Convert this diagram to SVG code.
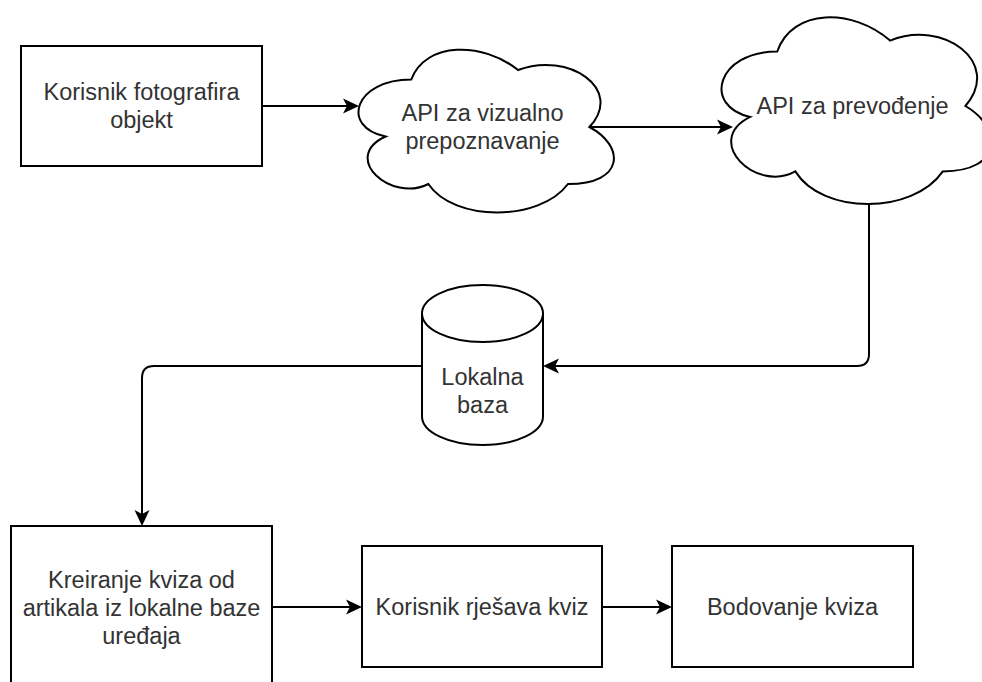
<svg xmlns="http://www.w3.org/2000/svg" width="982" height="682" viewBox="0 0 982 682">
<style>
.shape{fill:#ffffff;stroke:#000000;stroke-width:2}
.line{fill:none;stroke:#000000;stroke-width:2}
.lbl{font-family:"Liberation Sans",Arial,Helvetica,sans-serif;font-size:23.5px;fill:#333333;text-anchor:middle}
</style>
<defs>
<marker id="arrow" markerUnits="userSpaceOnUse" markerWidth="18" markerHeight="16" refX="12" refY="7.5" orient="auto" overflow="visible">
<path d="M0,0 L16,7.5 L0,15 L4,7.5 Z" fill="#000000" stroke="none"/>
</marker>
</defs>
<rect width="982" height="682" fill="#ffffff"/>
<g id="connectors">
<path class="line" d="M262,106 H355" marker-end="url(#arrow)"/>
<path class="line" d="M589,127 H729" marker-end="url(#arrow)"/>
<path class="line" d="M869,205 V354 Q869,366 857,366 H547" marker-end="url(#arrow)"/>
<path class="line" d="M422,366 H154 Q142,366 142,378 V522" marker-end="url(#arrow)"/>
<path class="line" d="M272,607 H358" marker-end="url(#arrow)"/>
<path class="line" d="M602,607 H668" marker-end="url(#arrow)"/>
</g>
<g id="node-korisnik-fotografira">
<rect class="shape" x="21" y="46" width="241" height="120"/>
<text class="lbl" x="141.5" y="100.4">Korisnik fotografira</text>
<text class="lbl" x="141.5" y="128.4">objekt</text>
</g>
<g id="node-api-vizualno">
<path class="shape" d="M411.25,79.5 C354.25,79.5 340,127 385.6,136.5 C340,157.4 391.3,203 428.35,184 C454,222 539.5,222 568,184 C625,184 625,146 589.4,127 C625,89 568,51 518.1,70 C482.5,41.5 425.5,41.5 411.25,79.5 Z"/>
<text class="lbl" x="482.5" y="121.4">API za vizualno</text>
<text class="lbl" x="482.5" y="149.4">prepoznavanje</text>
</g>
<g id="node-api-prevodenje">
<path class="shape" d="M777.25,51.5 C717.05,51.5 702,106 750.16,116.9 C702,140.9 756.18,193.2 795.31,171.4 C822.4,215 912.7,215 942.8,171.4 C1003,171.4 1003,127.8 965.4,106 C1003,62.4 942.8,18.8 890.1,40.6 C852.5,7.9 792.3,7.9 777.25,51.5 Z"/>
<text class="lbl" x="852.5" y="114.4">API za prevođenje</text>
</g>
<g id="node-lokalna-baza">
<path class="shape" d="M422,313.5 A60.5,28.5 0 0 1 543,313.5 V416.5 A60.5,28.5 0 0 1 422,416.5 Z"/>
<path class="line" d="M422,313.5 A60.5,28.5 0 0 0 543,313.5"/>
<text class="lbl" x="482.5" y="385.4">Lokalna</text>
<text class="lbl" x="482.5" y="413.4">baza</text>
</g>
<g id="node-kreiranje-kviza">
<rect class="shape" x="11" y="526" width="261" height="170"/>
<text class="lbl" x="141.5" y="588">Kreiranje kviza od</text>
<text class="lbl" x="141.5" y="616">artikala iz lokalne baze</text>
<text class="lbl" x="141.5" y="644">uređaja</text>
</g>
<g id="node-korisnik-rjesava">
<rect class="shape" x="362" y="546" width="240" height="121"/>
<text class="lbl" x="482" y="615.4">Korisnik rješava kviz</text>
</g>
<g id="node-bodovanje">
<rect class="shape" x="672" y="546" width="241" height="121"/>
<text class="lbl" x="792.5" y="615.4">Bodovanje kviza</text>
</g>
</svg>
